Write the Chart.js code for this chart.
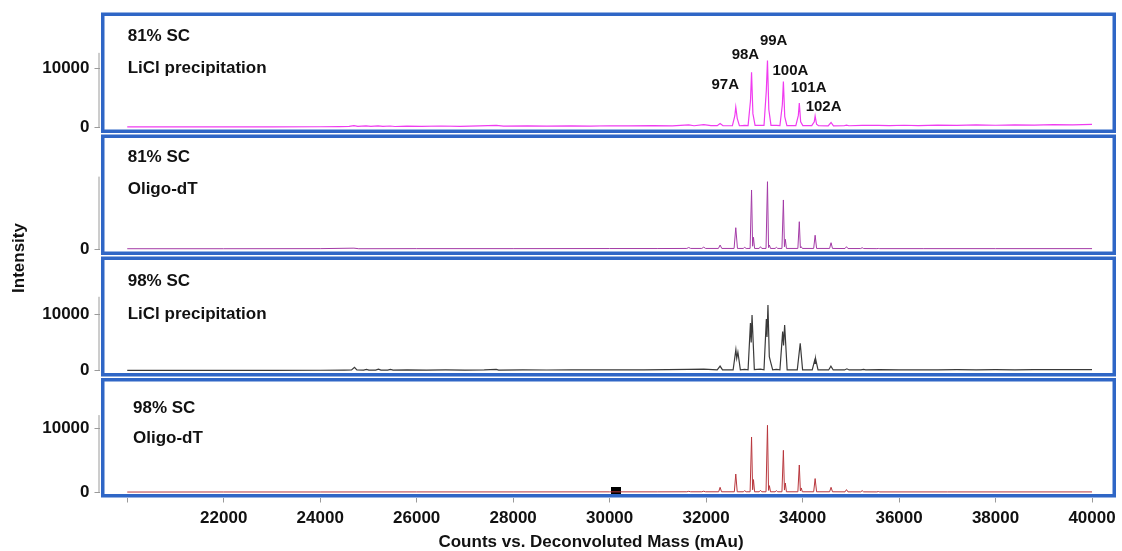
<!DOCTYPE html>
<html><head><meta charset="utf-8">
<script src="https://cdn.jsdelivr.net/npm/chart.js@4.4.1/dist/chart.umd.min.js"></script>
<style>html,body{margin:0;padding:0;background:#fff;}canvas{display:block;}</style>
</head><body>
<canvas id="c" width="1122" height="551"></canvas>
<script>
// ---------------- DATA ----------------
const xTicks = [20000,22000,24000,26000,28000,30000,32000,34000,36000,38000,40000];
const xTickLabels = ['','22000','24000','26000','28000','30000','32000','34000','36000','38000','40000'];
const yTicksP1 = [0,10000];
const yTicksP2 = [0];
const yTicksP3 = [0,10000];
const yTicksP4 = [0,10000];

const panelLine1 = ['81% SC','81% SC','98% SC','98% SC'];
const panelLine2 = ['LiCl precipitation','Oligo-dT','LiCl precipitation','Oligo-dT'];

// panel 1: 81% SC, LiCl precipitation
const p1Mass = [20000,21000,22000,23000,24000,24400,24600,24700,24780,24950,25050,25200,25300,25450,25550,25800,26100,26500,26900,27300,27650,27800,28300,28700,29200,29600,30000,30400,30900,31300,31640,31750,31950,32100,
 32230,32290,32350, 32545,32595,32615,32645,32690, 32800, 32870,32920,32942,32970,33015, 33130,33200,33248,33272,33300,33345,
 33460,33530,33580,33602,33630,33675, 33860,33912,33932,33960,34005, 34190,34242,34260,34290,34330, 34530,34590,34640, 34860,34910,34960,
 35235,35570,35800,36100,36400,36800,37200,37600,38000,38400,38800,39200,39600,40000];
const p1Int = [60,50,70,60,80,110,150,250,130,220,130,240,140,200,120,180,140,200,150,220,300,170,220,170,240,190,250,210,270,230,380,250,420,260,
 260,620,260, 250,1900,3420,1500,250, 300, 260,4500,9330,2300,300, 320,300,6200,11300,3000,300,
 300,280,3800,7760,1800,280, 260,2000,4100,900,260, 260,900,1900,500,250, 240,800,240, 250,350,250,
 300,320,260,330,280,350,300,380,330,400,360,450,400,480];

// panel 2: 81% SC, Oligo-dT
const p2Mass = [20000,22000,24000,24700,24800,26000,28000,30000,31000,31600,31640,31680,31910,31950,31990,32255,32290,32325,32580,32615,32650,32770,32800,32830,
 32912,32942,32964,32982,33005,33100,33127,33155,33242,33272,33294,33312,33335,33430,33457,33485,33572,33602,33624,33642,33665,
 33902,33932,33954,33972,33995,34230,34260,34290,34560,34590,34620,34880,34910,34940,35205,35235,35265,35540,35570,35600,36500,38000,40000];
const p2Int = [30,30,40,90,30,40,40,50,50,60,160,60,60,200,60,60,430,60,60,2310,60,60,180,60,
 60,6400,300,1270,60,60,250,60,60,7300,150,430,60,60,180,60,60,5320,250,1050,60,
 60,2960,120,250,60,60,1490,60,60,680,60,50,250,50,50,140,50,40,60,40,40,40,40];

// panel 3: 98% SC, LiCl precipitation
const p3Mass = [20000,21000,22000,23000,24000,24500,24650,24711,24760,24900,24960,25010,25150,25208,25260,25400,25456,25510,25800,26200,26600,27000,27400,27650,27700,28200,28700,29200,29700,30200,30700,31200,31640,31950,
 32230,32290,32340, 32560,32617,32635,32659,32710, 32800, 32870,32919,32935,32952,33000, 33127, 33200,33249,33262,33282,33310,33338,33380, 33457,
 33530,33587,33605,33628,33680, 33890,33951,34000, 34200,34249,34258,34270,34320, 34540,34587,34635, 34870,34918,34965, 35210,35263,35310,
 35600,36000,36400,36800,37200,37600,38000,38400,38800,39200,39600,40000];
const p3Int = [80,60,90,70,100,120,150,600,150,120,250,120,120,300,110,120,250,110,150,120,150,130,150,250,130,150,140,170,150,170,160,190,250,300,
 150,820,160, 160,3760,2200,3290,180, 250, 170,8470,5000,9880,200, 300, 180,9170,6000,11640,2500,1530,180, 250,
 180,6940,4500,8110,180, 170,4880,170, 160,1820,1300,2120,160, 150,820,150, 150,350,150, 150,250,150,
 200,150,180,160,200,170,200,180,210,190,220,200];

// panel 4: 98% SC, Oligo-dT
const p4Mass = [20000,22000,24000,26000,28000,30000,31000,31600,31640,31680,31910,31950,31990,32260,32290,32320,32585,32615,32645,32770,32800,32830,
 32912,32942,32964,32982,33005,33100,33127,33155,33242,33272,33294,33312,33335,33430,33457,33485,33572,33602,33624,33642,33665,
 33902,33932,33954,33972,33995,34230,34260,34290,34560,34590,34620,34880,34910,34940,35205,35235,35265,35540,35570,35600,37000,40000];
const p4Int = [40,50,50,60,60,70,70,80,150,80,80,170,80,80,780,80,80,2860,80,80,260,80,
 80,8670,400,1990,80,80,310,80,80,10500,300,1040,80,80,260,80,80,6580,350,1460,80,
 80,4280,200,680,80,80,2150,80,80,780,80,70,420,70,70,260,70,60,120,60,60,60];

// black marker in bottom panel
const markerMass = [30125];
const markerInt = [280];

// peak annotations (panel 1)
const annoText = ['97A','98A','99A','100A','101A','102A'];
const annoMass = [32397,32815,33400,33748,34125,34435];
const annoInt = [7100,12240,14560,9490,6590,3480];

// visible extent of the grey intensity axis line per panel
const axisTop = [12600,7850,13100,12100];

// ---------------- CHART ----------------
const FAM = "'Liberation Sans', Arial, Helvetica, sans-serif";
const BOLD17 = {family: FAM, size: 17, weight: 'bold'};
const xy = (m, v) => m.map((x, i) => ({x: x, y: v[i]}));

const mk = document.createElement('canvas');
mk.width = 10; mk.height = 7;
const mctx = mk.getContext('2d'); mctx.fillStyle = '#000'; mctx.fillRect(0,0,10,7);

function yAxis(ticksArr, min, max, weight) {
  return {
    type: 'linear', position: 'left', stack: 'panels', stackWeight: weight,
    min: min, max: max,
    afterBuildTicks: s => { s.ticks = ticksArr.map(v => ({value: v})); },
    afterFit: s => { s.width = 99.5; s.paddingTop = 0; s.paddingBottom = 0; },
    ticks: {font: BOLD17, color: '#111', padding: 5, callback: v => String(v)},
    grid: {drawOnChartArea: false, drawTicks: true, tickLength: 5, color: '#9a9a9a', lineWidth: 1},
    border: {display: false}
  };
}

const overlay = {
  id: 'overlay',
  afterDraw(chart) {
    const ctx = chart.ctx;
    const ca = chart.chartArea;
    const ids = ['y1','y2','y3','y4'];
    ctx.save();
    // grey axis lines
    ctx.strokeStyle = '#9a9a9a'; ctx.lineWidth = 1;
    ids.forEach((id, i) => {
      const s = chart.scales[id];
      ctx.beginPath();
      ctx.moveTo(ca.left - 0.5, s.getPixelForValue(0));
      ctx.lineTo(ca.left - 0.5, s.getPixelForValue(axisTop[i]));
      ctx.stroke();
    });
    // blue panel frames
    ctx.strokeStyle = '#2f66c6'; ctx.lineWidth = 3.5;
    ids.forEach((id, i) => {
      const s = chart.scales[id];
      const top = s.top + (i === 0 ? 0 : 0.75);
      const bot = s.bottom - (i === 3 ? 0 : 0.75);
      const l = 101, r = ca.right;
      ctx.strokeRect(l + 1.75, top + 1.75, r - l - 3.5, bot - top - 3.5);
    });
    // panel texts
    ctx.fillStyle = '#111';
    ctx.font = 'bold 17px ' + FAM;
    ctx.textBaseline = 'middle'; ctx.textAlign = 'left';
    const tx = [127.7,127.7,127.7,133];
    const ty1 = [36.7,157.7,281.7,408];
    const ty2 = [68.3,189.5,314.3,438];
    for (let i = 0; i < 4; i++) {
      ctx.fillText(panelLine1[i], tx[i], ty1[i]);
      ctx.fillText(panelLine2[i], tx[i], ty2[i]);
    }
    // peak annotations
    ctx.font = 'bold 15px ' + FAM; ctx.textAlign = 'center';
    const sx = chart.scales.x, s1 = chart.scales.y1;
    annoText.forEach((t, i) => ctx.fillText(t, sx.getPixelForValue(annoMass[i]), s1.getPixelForValue(annoInt[i])));
    // axis titles
    ctx.font = 'bold 17px ' + FAM;
    ctx.fillText('Counts vs. Deconvoluted Mass (mAu)', 591, 542);
    ctx.translate(19.5, 258); ctx.rotate(-Math.PI/2);
    ctx.fillText('Intensity', 0, 0);
    ctx.restore();
  }
};

const line = (data, color, yid, w) => ({
  type: 'line', data: data, yAxisID: yid, borderColor: color, borderWidth: w,
  pointRadius: 0, tension: 0, fill: false
});

new Chart(document.getElementById('c'), {
  type: 'line',
  data: {datasets: [
    line(xy(p1Mass, p1Int), '#f03cf0', 'y1', 1.2),
    line(xy(p2Mass, p2Int), '#a33aa6', 'y2', 1),
    line(xy(p3Mass, p3Int), '#3a3a3a', 'y3', 1.2),
    line(xy(p4Mass, p4Int), '#b8363c', 'y4', 1),
    {type: 'scatter', data: xy(markerMass, markerInt), yAxisID: 'y4', pointStyle: mk, pointRadius: 5, showLine: false}
  ]},
  options: {
    responsive: false, animation: false, devicePixelRatio: 1,
    layout: {padding: {left: 0, right: 4, top: 12.5, bottom: 0}},
    plugins: {legend: {display: false}, tooltip: {enabled: false}},
    scales: {
      x: {
        type: 'linear', min: 19425, max: 40497,
        afterBuildTicks: s => { s.ticks = xTicks.map(v => ({value: v})); },
        afterFit: s => { s.height = 53.5; s.paddingLeft = 0; s.paddingRight = 0; },
        ticks: {font: BOLD17, color: '#111', padding: 6, maxRotation: 0, autoSkip: false,
                callback: v => { const i = xTicks.indexOf(v); return i >= 0 ? xTickLabels[i] : ''; }},
        grid: {drawOnChartArea: false, drawTicks: true, tickLength: 5, color: '#9a9a9a', lineWidth: 1},
        border: {display: false}
      },
      y4: yAxis(yTicksP4, -815, 18033, 120.25),
      y3: yAxis(yTicksP3, -1142, 20363, 121.5),
      y2: yAxis(yTicksP2, -732, 12501, 122),
      y1: yAxis(yTicksP1, -1110, 19441, 121.25)
    }
  },
  plugins: [overlay]
});
</script>
</body></html>
